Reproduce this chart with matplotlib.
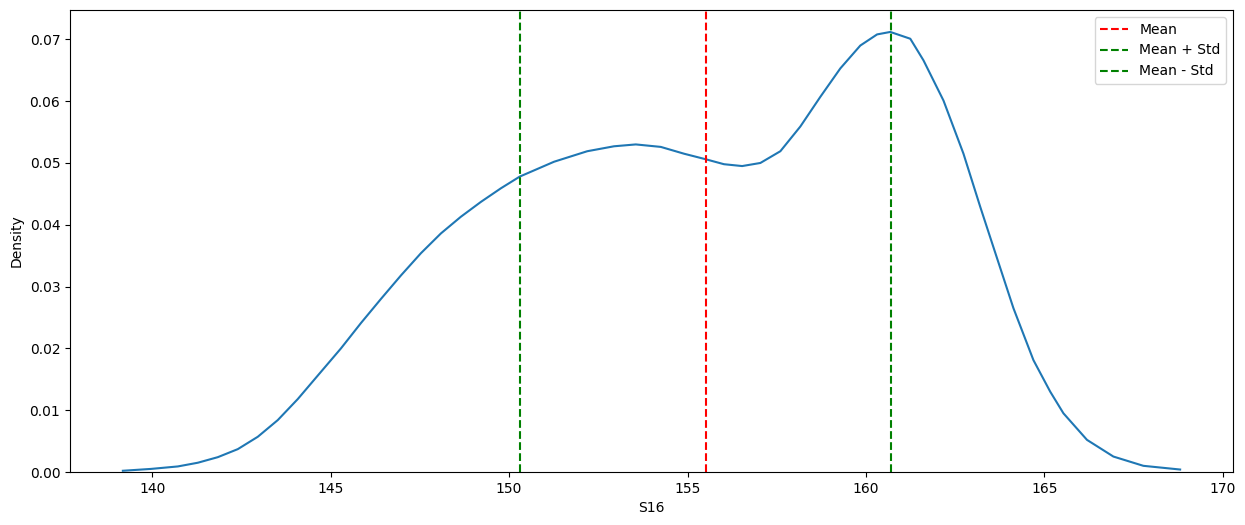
import numpy as np
import matplotlib.pyplot as plt

# density curve of S16
x = [139.18, 139.97, 140.72, 141.28, 141.84, 142.40, 142.96, 143.52, 144.08, 144.64,
     145.29, 145.85, 146.41, 146.97, 147.53, 148.09, 148.65, 149.21, 149.77, 150.30,
     151.26, 152.19, 152.94, 153.55, 154.25, 154.90, 155.51, 156.02, 156.53, 157.04,
     157.60, 158.16, 158.72, 159.28, 159.84, 160.31, 160.68, 161.24, 161.61, 162.17,
     162.73, 163.20, 163.67, 164.13, 164.69, 165.16, 165.53, 166.19, 166.93, 167.77,
     168.80]
density = [0.0002, 0.0005, 0.0009, 0.0015, 0.0024, 0.0037, 0.0057, 0.0084, 0.0118, 0.0156,
           0.0200, 0.0241, 0.0280, 0.0318, 0.0354, 0.0386, 0.0413, 0.0437, 0.0459, 0.0478,
           0.0502, 0.0519, 0.0527, 0.0530, 0.0526, 0.0515, 0.0506, 0.0498, 0.0495, 0.0500,
           0.0519, 0.0559, 0.0607, 0.0653, 0.0690, 0.0708, 0.0712, 0.0701, 0.0666, 0.0601,
           0.0515, 0.0429, 0.0346, 0.0265, 0.0181, 0.0130, 0.0095, 0.0052, 0.0025, 0.0010,
           0.0004]

mean = 155.51
std = 5.20

fig = plt.figure(figsize=(12.45, 5.25), dpi=100)
ax = fig.add_axes([70/1245, 53/525, 1163/1245, 462/525])
ax.plot(x, density, color='#1f77b4')
ax.axvline(mean, color='red', linestyle='--', label='Mean')
ax.axvline(mean + std, color='green', linestyle='--', label='Mean + Std')
ax.axvline(mean - std, color='green', linestyle='--', label='Mean - Std')
ax.set_ylim(bottom=0)
ax.set_xlabel("S16")
ax.set_ylabel("Density")
ax.legend()
fig.savefig('out.png')
